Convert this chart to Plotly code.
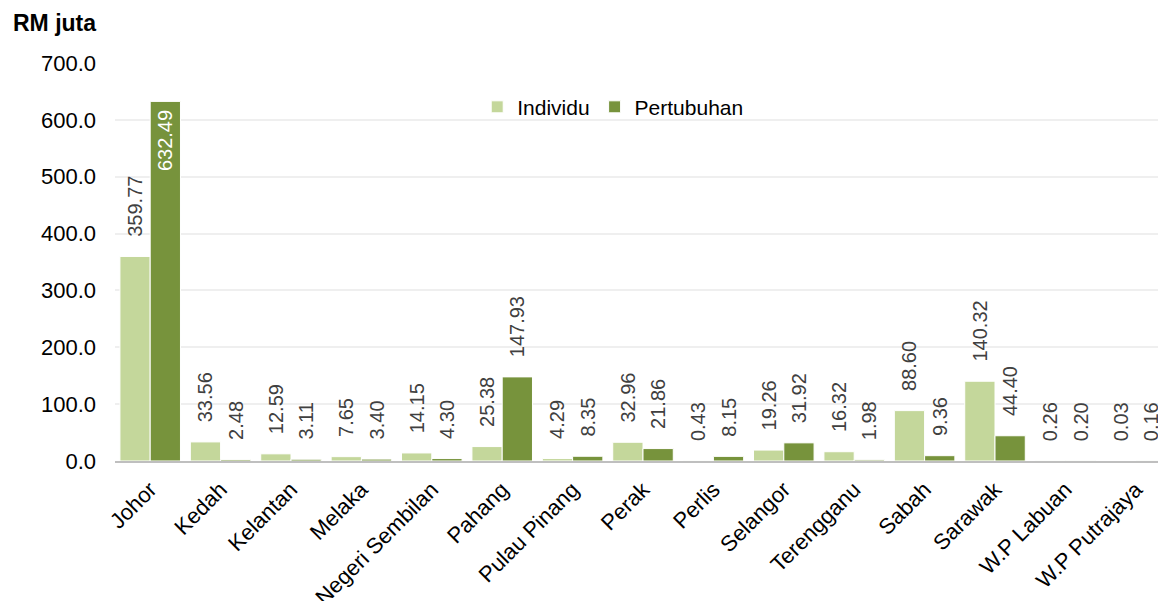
import plotly.graph_objects as go

states = ["Johor", "Kedah", "Kelantan", "Melaka", "Negeri Sembilan", "Pahang",
          "Pulau Pinang", "Perak", "Perlis", "Selangor", "Terengganu", "Sabah",
          "Sarawak", "W.P Labuan", "W.P Putrajaya"]
individu = [359.77, 33.56, 12.59, 7.65, 14.15, 25.38, 4.29, 32.96, 0.43, 19.26,
            16.32, 88.60, 140.32, 0.26, 0.03]
pertubuhan = [632.49, 2.48, 3.11, 3.40, 4.30, 147.93, 8.35, 21.86, 8.15, 31.92,
              1.98, 9.36, 44.40, 0.20, 0.16]
y_ticks = [0, 100, 200, 300, 400, 500, 600, 700]

FONT = "Liberation Sans, Arial, sans-serif"
C_IND = "#c4d79b"
C_PER = "#77933c"
NB = "\u00a0"

def label(v, inside=False):
    s = f"{v:.2f}"
    return s + NB if inside else NB * 3 + s

pos_per = ["inside" if v > 500 else "outside" for v in pertubuhan]
txt_ind = [label(v) for v in individu]
txt_per = [label(v, p == "inside") for v, p in zip(pertubuhan, pos_per)]

fig = go.Figure()
fig.add_trace(go.Bar(
    x=states, y=individu, name="Individu",
    marker=dict(color=C_IND, line=dict(color="white", width=1)),
    text=txt_ind, texttemplate="%{text}", textposition="outside", textangle=-90,
    outsidetextfont=dict(size=20, color="#404040", family=FONT),
    cliponaxis=False, constraintext="none", hoverinfo="x+y",
))
fig.add_trace(go.Bar(
    x=states, y=pertubuhan, name="Pertubuhan",
    marker=dict(color=C_PER, line=dict(color="white", width=1)),
    text=txt_per, texttemplate="%{text}", textposition=pos_per, textangle=-90,
    insidetextanchor="end",
    insidetextfont=dict(size=20, color="white", family=FONT),
    outsidetextfont=dict(size=20, color="#404040", family=FONT),
    cliponaxis=False, constraintext="none", hoverinfo="x+y",
))

fig.update_layout(
    width=1166, height=601,
    margin=dict(l=107, r=3, t=55, b=148),
    paper_bgcolor="white", plot_bgcolor="white",
    barmode="group", bargap=0.14, bargroupgap=0,
    font=dict(family=FONT, size=20, color="#000000"),
    showlegend=True,
    legend=dict(orientation="h", x=0.343, y=0.889, xanchor="left", yanchor="middle",
                font=dict(size=21, color="#000000", family=FONT),
                bgcolor="rgba(0,0,0,0)", itemwidth=30, traceorder="normal"),
    annotations=[dict(text="<b>RM juta</b>", xref="paper", yref="paper",
                      x=-0.0985, y=1.10, xanchor="left", yanchor="middle",
                      showarrow=False,
                      font=dict(size=23, family=FONT, color="#000000"))],
)
fig.update_xaxes(tickangle=-45, tickfont=dict(size=22, family=FONT, color="#000000"),
                 showline=True, linecolor="#bfbfbf", linewidth=2, ticks="",
                 showgrid=False, ticklabelstandoff=5, automargin=False)
fig.update_yaxes(range=[0, 700], tickvals=y_ticks, tickformat=".1f",
                 tickfont=dict(size=22, family=FONT, color="#000000"),
                 showgrid=True, gridcolor="#efefef", gridwidth=2,
                 zeroline=False, showline=False, ticks="", ticklabelstandoff=18,
                 automargin=False)

fig.write_html("out.html")
